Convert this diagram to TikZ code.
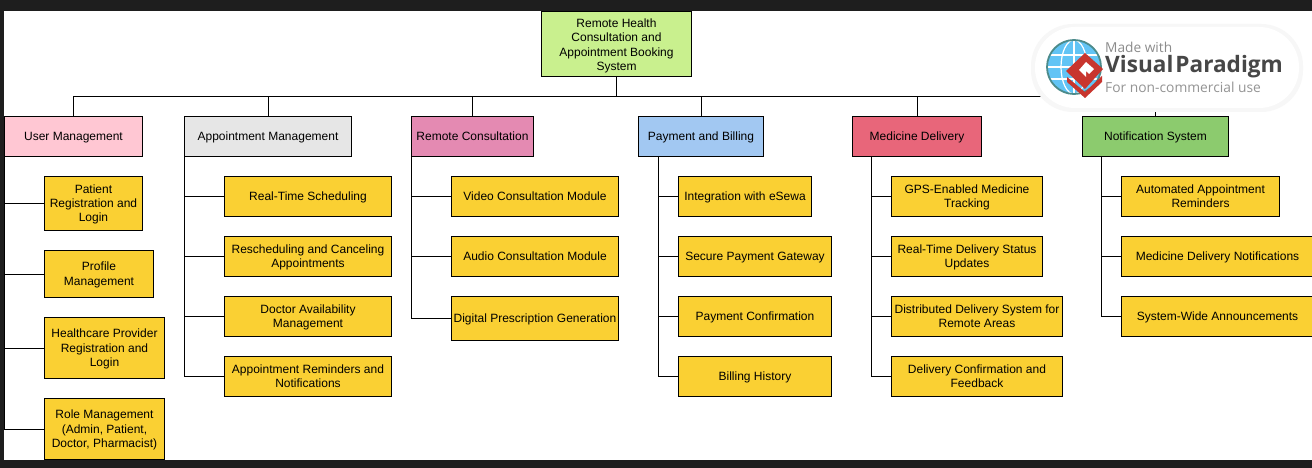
\documentclass[tikz,border=0pt]{standalone}
\usepackage{fontspec}
\setmainfont{Liberation Sans}
\newfontfamily\logofont{Open Sans}
\usetikzlibrary{positioning,calc}

\definecolor{rootc}{HTML}{C9F08E}
\definecolor{userc}{HTML}{FFC7D3}
\definecolor{apptc}{HTML}{E6E6E6}
\definecolor{remc}{HTML}{E48AB2}
\definecolor{payc}{HTML}{A2C8F2}
\definecolor{medc}{HTML}{E8667A}
\definecolor{notc}{HTML}{8CCB6E}
\definecolor{kidc}{HTML}{FAD033}
\definecolor{framec}{HTML}{1E1E1E}
\definecolor{globec}{HTML}{62C4F5}
\definecolor{logored}{HTML}{C8352E}

\newcommand\boxstrut{\rule[-3pt]{0pt}{14.5pt}}
\newcommand\firstln[1][11]{\rule{0pt}{#1pt}}

\tikzset{
  box/.style 2 args={draw,line width=1pt,outer sep=0pt,inner sep=0pt,align=center,
    font=\fontsize{12}{14.4}\selectfont,minimum width=#1pt,minimum height=#2pt,
    execute at begin node=\boxstrut,execute at end node=\boxstrut},
  head/.style n args={3}{box={#1}{#2},fill=#3,anchor=north west},
  kid/.style 2 args={box={#1}{#2},fill=kidc},
  wire/.style={line width=1pt},
}

\begin{document}
\begin{tikzpicture}[x=1pt,y=-1pt]

\useasboundingbox (0,0) rectangle (1312,468);
\fill[framec] (0,0) rectangle (1312,468);
\fill[white] (4,11) rectangle (1312,460);

\node[head={150}{65}{rootc}] (root) at (541.5,11.5) {\firstln[13]Remote Health\\Consultation and\\Appointment Booking\\System};

\node[head={138}{40}{userc}] (usr) at (4.5,116.5) {User Management};
\node[head={167}{40}{apptc}] (appt) at (184.5,116.5) {Appointment Management};
\node[head={122}{40}{remc}] (rem) at (411.5,116.5) {Remote Consultation};
\node[head={125}{40}{payc}] (pay) at (638.5,116.5) {Payment and Billing};
\node[head={129}{40}{medc}] (med) at (852.5,116.5) {Medicine Delivery};
\node[head={146}{40}{notc}] (noti) at (1082.5,116.5) {Notification System};

\node[kid={98}{54}, below right=20pt and 40pt of usr.south west] (u1) {\firstln Patient\\Registration and\\Login};
\node[kid={109}{47}, below right=20pt and 0pt of u1.south west] (u2) {\firstln Profile\\Management};
\node[kid={120}{61}, below right=20pt and 0pt of u2.south west] (u3) {\firstln Healthcare Provider\\Registration and\\Login};
\node[kid={120}{61}, below right=20pt and 0pt of u3.south west] (u4) {\firstln Role Management\\(Admin, Patient,\\Doctor, Pharmacist)};

\node[kid={167}{40}, below right=20pt and 40pt of appt.south west] (a1) {Real-Time Scheduling};
\node[kid={167}{40}, below=20pt of a1] (a2) {\firstln Rescheduling and Canceling\\Appointments};
\node[kid={167}{40}, below=20pt of a2] (a3) {\firstln Doctor Availability\\Management};
\node[kid={167}{40}, below=20pt of a3] (a4) {\firstln Appointment Reminders and\\Notifications};

\node[kid={167}{40}, below right=20pt and 40pt of rem.south west] (r1) {Video Consultation Module};
\node[kid={167}{40}, below=20pt of r1] (r2) {Audio Consultation Module};
\node[kid={167}{44}, below=20pt of r2] (r3) {Digital Prescription Generation};

\coordinate (payT) at ($(pay.south west)+(20,0)$);
\node[kid={133}{40}, below right=20pt and 20pt of payT] (p1) {Integration with eSewa};
\node[kid={153}{40}, below right=20pt and 0pt of p1.south west] (p2) {Secure Payment Gateway};
\node[kid={153}{40}, below=20pt of p2] (p3) {Payment Confirmation};
\node[kid={153}{40}, below=20pt of p3] (p4) {Billing History};

\coordinate (medT) at ($(med.south west)+(19,0)$);
\node[kid={151}{40}, below right=20pt and 20pt of medT] (m1) {\firstln GPS-Enabled Medicine\\Tracking};
\node[kid={151}{40}, below=20pt of m1] (m2) {\firstln Real-Time Delivery Status\\Updates};
\node[kid={171}{40}, below right=20pt and 0pt of m2.south west] (m3) {\firstln Distributed Delivery System for\\Remote Areas};
\node[kid={171}{40}, below=20pt of m3] (m4) {\firstln Delivery Confirmation and\\Feedback};

\coordinate (notT) at ($(noti.south west)+(19,0)$);
\node[kid={158}{40}, below right=20pt and 20pt of notT] (n1) {\firstln Automated Appointment\\Reminders};
\node[kid={192}{40}, below right=20pt and 0pt of n1.south west] (n2) {Medicine Delivery Notifications};
\node[kid={192}{40}, below=20pt of n2] (n3) {System-Wide Announcements};

% bus
\coordinate (bus) at ($(root.south)+(0,20)$);
\draw[wire] (root.south) -- (bus);
\foreach \nn in {usr,appt,rem,pay,med,noti}{
\draw[wire] (bus) -| (\nn.north);
}

% trunks
\foreach \nn in {u1,u2,u3,u4}{
\draw[wire] (usr.south west) |- (\nn.west);
}
\foreach \nn in {a1,a2,a3,a4}{
\draw[wire] (appt.south west) |- (\nn.west);
}
\foreach \nn in {r1,r2,r3}{
\draw[wire] (rem.south west) |- (\nn.west);
}
\foreach \nn in {p1,p2,p3,p4}{
\draw[wire] (payT) |- (\nn.west);
}
\foreach \nn in {m1,m2,m3,m4}{
\draw[wire] (medT) |- (\nn.west);
}
\foreach \nn in {n1,n2,n3}{
\draw[wire] (notT) |- (\nn.west);
}

% logo
\fill[black!3,rounded corners=42pt] (1031,24) rectangle (1303,112);
\fill[white,rounded corners=40pt] (1035,27) rectangle (1299,108);
\begin{scope}[shift={(1074,67)}]
\fill[globec] (0,0) circle (27);
\draw[white,line width=1.2pt] (0,-27) -- (0,27) (-27,0) -- (27,0) (-24,-12) -- (24,-12) (-24,12) -- (24,12);
\draw[white,line width=1.2pt] (0,0) ellipse (13 and 27);
\draw[black!30!teal!70!white,line width=1.8pt] (0,0) circle (27);
\end{scope}
\fill[logored] (1067,77) -- (1085,92) -- (1102,76) -- (1102,82) -- (1085,98) -- (1067,82) -- cycle;
\fill[logored] (1066,71) -- (1085,53) -- (1103,69) -- (1085,89) -- cycle;
\fill[white] (1079,70) -- (1086,62) -- (1094,69) -- (1089,74) -- (1086,71) -- (1086,77) -- cycle;
\node[anchor=west,inner sep=0pt,text=black!45,font=\logofont\fontsize{13.7}{15}\selectfont] (logoa) at (1105,47) {Made with};
\node[anchor=west,inner sep=0pt,text=black!72,font=\logofont\bfseries\fontsize{22.6}{24}\selectfont] (logob) at (1105,67) {Visual\kern2pt Paradigm};
\node[anchor=west,inner sep=0pt,text=black!42,font=\logofont\fontsize{13.8}{15}\selectfont] (logoc) at (1105,87) {For non-commercial use};

\end{tikzpicture}
\end{document}
